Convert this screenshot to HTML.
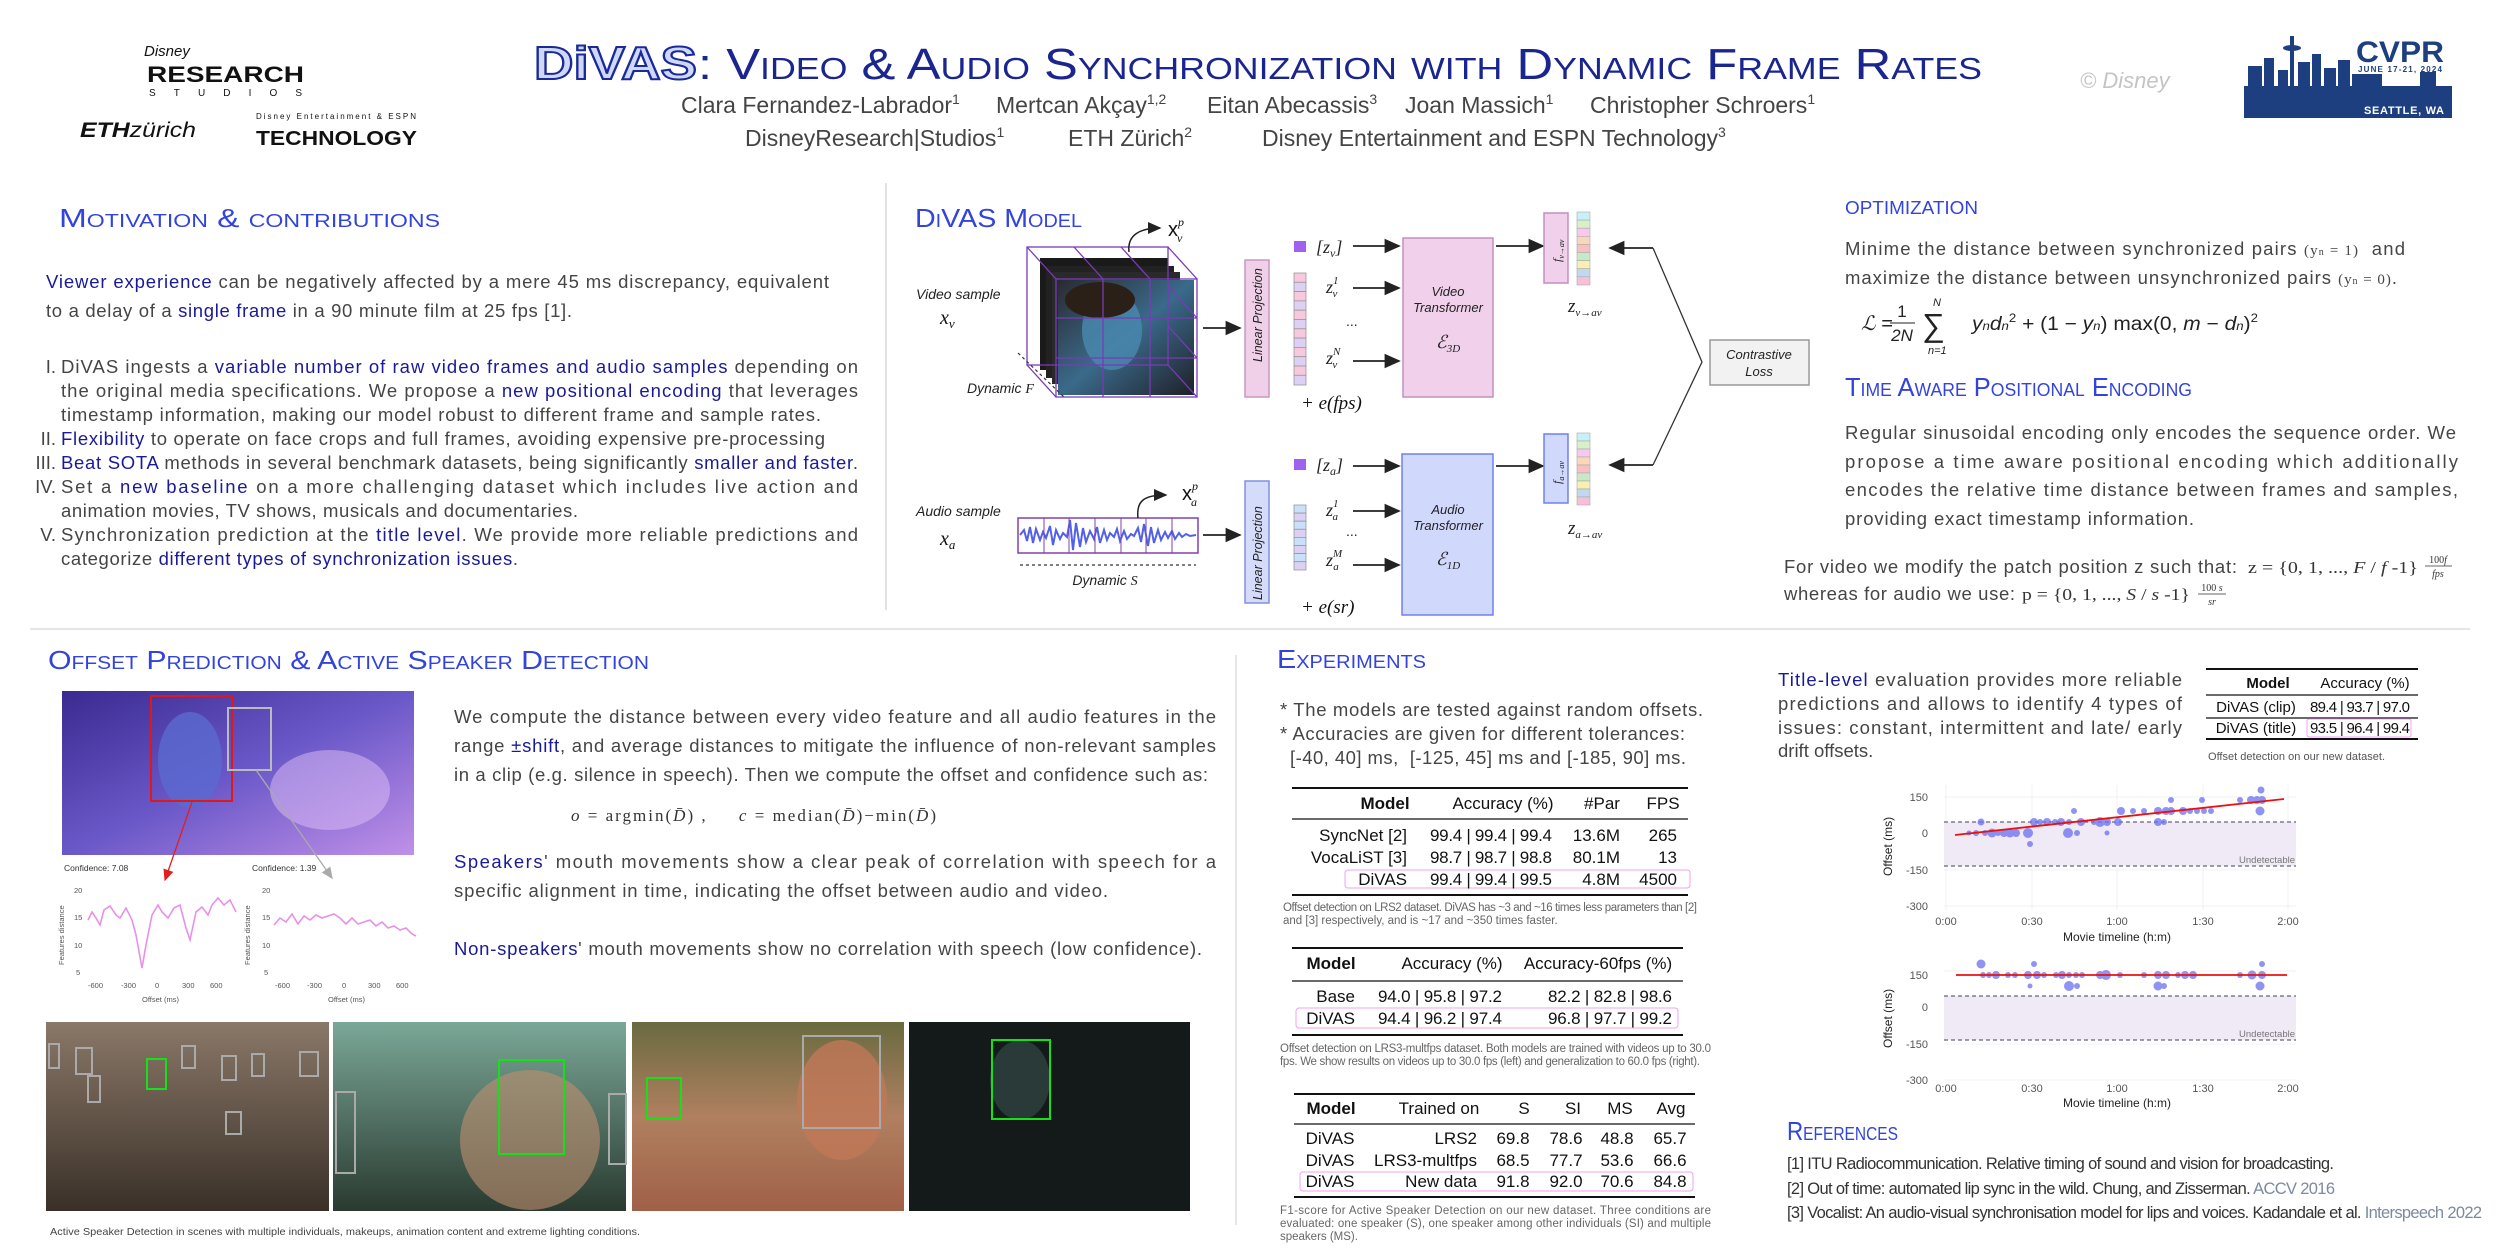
<!DOCTYPE html>
<html><head><meta charset="utf-8"><style>
html,body{margin:0;padding:0;background:#fff;width:2500px;height:1250px;overflow:hidden}
svg{position:absolute;left:0;top:0}
text{font-family:"Liberation Sans",sans-serif;white-space:pre}
.b{font-size:18.5px;fill:#454545}
.h{fill:#1a1a99}
.hd{font-size:26px;fill:#3344dd;font-variant:small-caps}
.s{font-family:"Liberation Serif",serif}
.m{font-family:"Liberation Serif",serif;font-style:italic}
.tb{font-family:"Liberation Serif",serif;font-size:17px;fill:#111}
.cap{font-size:11.5px;fill:#666}
.ax{font-size:11px;fill:#555}
</style></head><body>
<svg width="2500" height="1250" viewBox="0 0 2500 1250" xmlns="http://www.w3.org/2000/svg">
<defs>
<linearGradient id="av" x1="0" y1="0" x2="1" y2="1"><stop offset="0" stop-color="#3a2a90"/><stop offset="0.5" stop-color="#6a58c8"/><stop offset="1" stop-color="#c090e8"/></linearGradient>
<linearGradient id="cube" x1="0" y1="0" x2="1" y2="1"><stop offset="0" stop-color="#2a2a30"/><stop offset="0.5" stop-color="#3a6a8a"/><stop offset="1" stop-color="#202028"/></linearGradient>
<linearGradient id="im1" x1="0" y1="0" x2="0" y2="1"><stop offset="0" stop-color="#8a7868"/><stop offset="1" stop-color="#3a3028"/></linearGradient>
<linearGradient id="im2" x1="0" y1="0" x2="0" y2="1"><stop offset="0" stop-color="#7aa898"/><stop offset="1" stop-color="#2a3a30"/></linearGradient>
<linearGradient id="im3" x1="0" y1="0" x2="0" y2="1"><stop offset="0" stop-color="#6a6a40"/><stop offset="0.5" stop-color="#b08060"/><stop offset="1" stop-color="#a06048"/></linearGradient>
<marker id="ar" markerWidth="10" markerHeight="10" refX="8" refY="5" orient="auto"><path d="M0,1 L9,5 L0,9 z" fill="#222"/></marker>
<marker id="arr" markerWidth="10" markerHeight="10" refX="8" refY="5" orient="auto"><path d="M0,1 L9,5 L0,9 z" fill="#e02020"/></marker>
<marker id="arg" markerWidth="10" markerHeight="10" refX="8" refY="5" orient="auto"><path d="M0,1 L9,5 L0,9 z" fill="#aaa"/></marker>
</defs>

<!-- LOGOS -->
<text x="144" y="56" font-size="15" font-style="italic" fill="#111" font-family="Liberation Serif">Disney</text>
<text x="147" y="82" font-size="22" font-weight="bold" fill="#111" textLength="157" lengthAdjust="spacingAndGlyphs">RESEARCH</text>
<text x="149" y="96" font-size="10" fill="#111" textLength="153" lengthAdjust="spacing">STUDIOS</text>
<text x="80" y="137" font-size="21" fill="#111" textLength="116" lengthAdjust="spacingAndGlyphs"><tspan font-weight="bold" font-style="italic">ETH</tspan><tspan font-style="italic">zürich</tspan></text>
<text x="256" y="119" font-size="8" fill="#111" textLength="160">Disney Entertainment &amp; ESPN</text>
<text x="256" y="145" font-size="20" font-weight="bold" fill="#111" textLength="161" lengthAdjust="spacingAndGlyphs">TECHNOLOGY</text>
<text x="2080" y="88" font-size="22" font-style="italic" fill="#c4c4c4">© Disney</text>
<!-- CVPR -->
<g fill="#1e3f7f">
<rect x="2244" y="86" width="208" height="32"/>
<rect x="2248" y="66" width="14" height="22"/><rect x="2264" y="58" width="10" height="30"/>
<rect x="2278" y="70" width="10" height="18"/><rect x="2290" y="36" width="4" height="52"/>
<ellipse cx="2292" cy="48" rx="9" ry="3"/><rect x="2298" y="62" width="12" height="26"/>
<rect x="2312" y="54" width="9" height="34"/><rect x="2324" y="68" width="12" height="20"/>
<rect x="2338" y="60" width="12" height="28"/><rect x="2352" y="74" width="30" height="14"/>
<rect x="2420" y="72" width="16" height="16"/>
</g>
<text x="2356" y="62" font-size="30" font-weight="bold" fill="#1e3f7f" textLength="88" lengthAdjust="spacingAndGlyphs">CVPR</text>
<text x="2358" y="72" font-size="8" font-weight="bold" fill="#1e3f7f" textLength="84">JUNE 17-21, 2024</text>
<text x="2364" y="114" font-size="11" font-weight="bold" fill="#fff" textLength="80">SEATTLE, WA</text>

<!-- TITLE -->
<text x="534" y="79" font-size="46" font-weight="bold" fill="#d0d8f8" stroke="#1a2a9a" stroke-width="2" textLength="163" lengthAdjust="spacingAndGlyphs">DiVAS</text>
<text x="698" y="79" font-size="44" fill="#1a2590" style="font-variant:small-caps" textLength="1284" lengthAdjust="spacingAndGlyphs">: Video &amp; Audio Synchronization with Dynamic Frame Rates</text>
<g font-size="23" fill="#444">
<text x="681" y="113">Clara Fernandez-Labrador<tspan font-size="14" dy="-9">1</tspan></text>
<text x="996" y="113">Mertcan Akçay<tspan font-size="14" dy="-9">1,2</tspan></text>
<text x="1207" y="113">Eitan Abecassis<tspan font-size="14" dy="-9">3</tspan></text>
<text x="1405" y="113">Joan Massich<tspan font-size="14" dy="-9">1</tspan></text>
<text x="1590" y="113">Christopher Schroers<tspan font-size="14" dy="-9">1</tspan></text>
<text x="745" y="146">DisneyResearch|Studios<tspan font-size="14" dy="-9">1</tspan></text>
<text x="1068" y="146">ETH Zürich<tspan font-size="14" dy="-9">2</tspan></text>
<text x="1262" y="146">Disney Entertainment and ESPN Technology<tspan font-size="14" dy="-9">3</tspan></text>
</g>

<!-- DIVIDERS -->
<line x1="886" y1="183" x2="886" y2="610" stroke="#e2e2e2" stroke-width="2"/>
<line x1="30" y1="629" x2="2470" y2="629" stroke="#e6e6e6" stroke-width="2"/>
<line x1="1236" y1="655" x2="1236" y2="1225" stroke="#e6e6e6" stroke-width="2"/>

<!-- MOTIVATION -->
<text class="hd" x="59" y="227" textLength="381" lengthAdjust="spacingAndGlyphs">Motivation &amp; contributions</text>
<text class="b" x="46" y="288" textLength="783" lengthAdjust="spacing"><tspan class="h">Viewer experience</tspan> can be negatively affected by a mere 45 ms discrepancy, equivalent</text>
<text class="b" x="46" y="317" textLength="526" lengthAdjust="spacing">to a delay of a <tspan class="h">single frame</tspan> in a 90 minute film at 25 fps [1].</text>
<g class="b" text-anchor="end"><text x="56" y="373">I.</text><text x="56" y="445">II.</text><text x="56" y="469">III.</text><text x="56" y="493">IV.</text><text x="56" y="541">V.</text></g>
<text class="b" x="61" y="373" textLength="797" lengthAdjust="spacing">DiVAS ingests a <tspan class="h">variable number of raw video frames and audio samples</tspan> depending on</text>
<text class="b" x="61" y="397" textLength="797" lengthAdjust="spacing">the original media specifications. We propose a <tspan class="h">new positional encoding</tspan> that leverages</text>
<text class="b" x="61" y="421" textLength="760" lengthAdjust="spacing">timestamp information, making our model robust to different frame and sample rates.</text>
<text class="b" x="61" y="445" textLength="764" lengthAdjust="spacing"><tspan class="h">Flexibility</tspan> to operate on face crops and full frames, avoiding expensive pre-processing</text>
<text class="b" x="61" y="469" textLength="797" lengthAdjust="spacing"><tspan class="h">Beat SOTA</tspan> methods in several benchmark datasets, being significantly <tspan class="h">smaller and faster</tspan>.</text>
<text class="b" x="61" y="493" textLength="797" lengthAdjust="spacing">Set a <tspan class="h">new baseline</tspan> on a more challenging dataset which includes live action and</text>
<text class="b" x="61" y="517" textLength="517" lengthAdjust="spacing">animation movies, TV shows, musicals and documentaries.</text>
<text class="b" x="61" y="541" textLength="797" lengthAdjust="spacing">Synchronization prediction at the <tspan class="h">title level</tspan>. We provide more reliable predictions and</text>
<text class="b" x="61" y="565" textLength="457" lengthAdjust="spacing">categorize <tspan class="h">different types of synchronization issues</tspan>.</text>

<!-- MODEL -->
<text class="hd" x="915" y="227" textLength="167" lengthAdjust="spacingAndGlyphs">DiVAS Model</text>
<text x="916" y="299" font-size="14" font-style="italic" fill="#222">Video sample</text>
<text x="940" y="324" font-size="20" class="m" fill="#111">x<tspan font-size="13" dy="4">v</tspan></text>
<g>
<rect x="1040" y="258" width="128" height="112" fill="#1a1a1a"/>
<rect x="1046" y="266" width="128" height="112" fill="#222"/>
<rect x="1052" y="272" width="128" height="112" fill="#2a2a2a"/>
<rect x="1058" y="280" width="136" height="115" fill="url(#cube)"/>
<ellipse cx="1112" cy="330" rx="30" ry="40" fill="#4a8ab0" opacity="0.8"/>
<ellipse cx="1100" cy="300" rx="35" ry="18" fill="#2a2018"/>
<g fill="none" stroke="#7a3ab8" stroke-width="1.3">
<rect x="1027" y="247" width="141" height="118"/>
<rect x="1056" y="279" width="141" height="118"/>
<line x1="1027" y1="247" x2="1056" y2="279"/><line x1="1168" y1="247" x2="1197" y2="279"/>
<line x1="1027" y1="365" x2="1056" y2="397"/><line x1="1168" y1="365" x2="1197" y2="397"/>
<line x1="1103" y1="279" x2="1103" y2="397"/><line x1="1150" y1="279" x2="1150" y2="397"/>
<line x1="1056" y1="318" x2="1197" y2="318"/><line x1="1056" y1="358" x2="1197" y2="358"/>
<line x1="1074" y1="247" x2="1103" y2="279"/><line x1="1121" y1="247" x2="1150" y2="279"/>
<line x1="1168" y1="286" x2="1197" y2="318"/><line x1="1168" y1="326" x2="1197" y2="358"/>
</g></g>
<path d="M1129,252 C1127,235 1140,228 1160,228" fill="none" stroke="#222" stroke-width="1.5" marker-end="url(#ar)"/>
<text x="1168" y="236" font-size="20" fill="#111">x<tspan font-size="12" dy="-10" class="m">p</tspan><tspan font-size="12" dx="-7" dy="16" class="m">v</tspan></text>
<line x1="1018" y1="353" x2="1065" y2="398" stroke="#333" stroke-width="1.2" stroke-dasharray="3,3"/>
<text x="967" y="393" font-size="14" font-style="italic" fill="#222">Dynamic <tspan class="m">F</tspan></text>
<line x1="1203" y1="328" x2="1240" y2="328" stroke="#222" stroke-width="1.8" marker-end="url(#ar)"/>
<rect x="1245" y="260" width="24" height="137" fill="#f0d0e8" stroke="#c898c0" stroke-width="1.5"/>
<text transform="translate(1262,362) rotate(-90)" font-size="12.5" font-style="italic" fill="#222">Linear Projection</text>
<rect x="1294" y="241" width="12" height="11" fill="#a060f0"/>
<text x="1316" y="253" font-size="18" class="m" fill="#222">[z<tspan font-size="12" dy="4">v</tspan><tspan dy="-4">]</tspan></text>
<g stroke="#999" stroke-width="0.8">
<rect x="1294" y="273" width="12" height="9.3" fill="#f8c8dc"/><rect x="1294" y="282.3" width="12" height="9.3" fill="#dcd0f4"/>
<rect x="1294" y="291.6" width="12" height="9.3" fill="#f8c8dc"/><rect x="1294" y="300.9" width="12" height="9.3" fill="#dcd0f4"/>
<rect x="1294" y="310.2" width="12" height="9.3" fill="#f8c8dc"/><rect x="1294" y="319.5" width="12" height="9.3" fill="#dcd0f4"/>
<rect x="1294" y="328.8" width="12" height="9.3" fill="#f8c8dc"/><rect x="1294" y="338.1" width="12" height="9.3" fill="#dcd0f4"/>
<rect x="1294" y="347.4" width="12" height="9.3" fill="#f8c8dc"/><rect x="1294" y="356.7" width="12" height="9.3" fill="#dcd0f4"/>
<rect x="1294" y="366" width="12" height="9.3" fill="#f8c8dc"/><rect x="1294" y="375.3" width="12" height="9.7" fill="#dcd0f4"/>
</g>
<text x="1326" y="293" font-size="18" class="m" fill="#222">z<tspan font-size="11" dy="-9">1</tspan><tspan font-size="11" dx="-6" dy="13">v</tspan></text>
<text x="1346" y="326" font-size="14" fill="#222">...</text>
<text x="1326" y="364" font-size="18" class="m" fill="#222">z<tspan font-size="11" dy="-9">N</tspan><tspan font-size="11" dx="-8" dy="13">v</tspan></text>
<g stroke="#222" stroke-width="1.8" marker-end="url(#ar)"><line x1="1353" y1="246" x2="1399" y2="246"/><line x1="1353" y1="288" x2="1399" y2="288"/><line x1="1353" y1="361" x2="1399" y2="361"/></g>
<text x="1301" y="409" font-size="19" class="m" fill="#111">+ e(fps)</text>
<rect x="1403" y="238" width="90" height="159" fill="#f0d0ea" stroke="#c090c0" stroke-width="1.5"/>
<text x="1448" y="296" font-size="13" font-style="italic" fill="#222" text-anchor="middle">Video</text>
<text x="1448" y="312" font-size="13" font-style="italic" fill="#222" text-anchor="middle">Transformer</text>
<text x="1448" y="348" font-size="18" class="m" fill="#222" text-anchor="middle">ℰ<tspan font-size="11" dy="4">3D</tspan></text>
<line x1="1496" y1="246" x2="1543" y2="246" stroke="#222" stroke-width="1.8" marker-end="url(#ar)"/>
<rect x="1544" y="213" width="24" height="70" fill="#f0d0ea" stroke="#c090c0" stroke-width="1.5"/>
<text transform="translate(1561,262) rotate(-90)" font-size="12" class="m" fill="#222">f<tspan font-size="8" dy="3">v→av</tspan></text>
<g stroke="#aaa" stroke-width="0.6">
<rect x="1577" y="212" width="13" height="8.1" fill="#c8f0f8"/><rect x="1577" y="220.1" width="13" height="8.1" fill="#d8f0c8"/><rect x="1577" y="228.2" width="13" height="8.1" fill="#f8c8f0"/><rect x="1577" y="236.3" width="13" height="8.1" fill="#f8d8b8"/><rect x="1577" y="244.4" width="13" height="8.1" fill="#f8c0c0"/><rect x="1577" y="252.5" width="13" height="8.1" fill="#c8e8c8"/><rect x="1577" y="260.6" width="13" height="8.1" fill="#f8f0b0"/><rect x="1577" y="268.7" width="13" height="8.1" fill="#c0d8f0"/><rect x="1577" y="276.8" width="13" height="8.2" fill="#f8c0d8"/>
<rect x="1577" y="433" width="13" height="8" fill="#c8f0f8"/><rect x="1577" y="441" width="13" height="8" fill="#d8f0c8"/><rect x="1577" y="449" width="13" height="8" fill="#f8c8f0"/><rect x="1577" y="457" width="13" height="8" fill="#f8d8b8"/><rect x="1577" y="465" width="13" height="8" fill="#f8c0c0"/><rect x="1577" y="473" width="13" height="8" fill="#c8e8c8"/><rect x="1577" y="481" width="13" height="8" fill="#f8f0b0"/><rect x="1577" y="489" width="13" height="8" fill="#c0d8f0"/><rect x="1577" y="497" width="13" height="8" fill="#f8c0d8"/>
</g>
<text x="1568" y="312" font-size="19" class="m" fill="#222">z<tspan font-size="11" dy="4">v→av</tspan></text>
<polyline points="1653,248 1702,362 1653,465" fill="none" stroke="#333" stroke-width="1.3"/>
<line x1="1653" y1="248" x2="1610" y2="248" stroke="#222" stroke-width="1.8" marker-end="url(#ar)"/>
<line x1="1653" y1="465" x2="1610" y2="465" stroke="#222" stroke-width="1.8" marker-end="url(#ar)"/>
<rect x="1710" y="340" width="99" height="45" fill="#f2f2f2" stroke="#999" stroke-width="1.5"/>
<text x="1759" y="359" font-size="13" font-style="italic" fill="#222" text-anchor="middle">Contrastive</text>
<text x="1759" y="376" font-size="13" font-style="italic" fill="#222" text-anchor="middle">Loss</text>
<text x="916" y="516" font-size="14" font-style="italic" fill="#222">Audio sample</text>
<text x="940" y="545" font-size="20" class="m" fill="#111">x<tspan font-size="13" dy="4">a</tspan></text>
<rect x="1018" y="518" width="180" height="35" fill="#fff" stroke="#8040b0" stroke-width="1.5"/>
<path d="M1020,535 L1024,530 L1027,541 L1030,527 L1033,543 L1036,529 L1040,540 L1043,532 L1046,538 L1050,526 L1053,545 L1056,530 L1060,539 L1063,533 L1067,537 L1070,520 L1073,550 L1076,523 L1080,547 L1083,528 L1086,542 L1090,531 L1094,539 L1097,527 L1100,543 L1104,530 L1107,540 L1110,533 L1114,537 L1117,529 L1120,541 L1124,531 L1127,539 L1131,534 L1134,536 L1138,528 L1141,542 L1144,524 L1148,546 L1151,527 L1154,543 L1158,530 L1161,540 L1165,532 L1168,538 L1172,531 L1175,539 L1179,533 L1182,537 L1186,534 L1190,536 L1196,535" fill="none" stroke="#5060e8" stroke-width="2"/>
<g stroke="#8040b0" stroke-width="1"><line x1="1044" y1="518" x2="1044" y2="553"/><line x1="1069" y1="518" x2="1069" y2="553"/><line x1="1095" y1="518" x2="1095" y2="553"/><line x1="1121" y1="518" x2="1121" y2="553"/><line x1="1146" y1="518" x2="1146" y2="553"/><line x1="1172" y1="518" x2="1172" y2="553"/></g>
<path d="M1138,518 C1136,500 1145,495 1166,495" fill="none" stroke="#222" stroke-width="1.5" marker-end="url(#ar)"/>
<text x="1182" y="500" font-size="20" fill="#111">x<tspan font-size="12" dy="-10" class="m">p</tspan><tspan font-size="12" dx="-7" dy="16" class="m">a</tspan></text>
<line x1="1020" y1="565" x2="1196" y2="565" stroke="#333" stroke-width="1.2" stroke-dasharray="3,3"/>
<text x="1105" y="585" font-size="14" font-style="italic" fill="#222" text-anchor="middle">Dynamic <tspan class="m">S</tspan></text>
<line x1="1203" y1="535" x2="1240" y2="535" stroke="#222" stroke-width="1.8" marker-end="url(#ar)"/>
<rect x="1245" y="481" width="24" height="122" fill="#d4dcfa" stroke="#8090e0" stroke-width="1.5"/>
<text transform="translate(1262,600) rotate(-90)" font-size="12.5" font-style="italic" fill="#222">Linear Projection</text>
<rect x="1294" y="459" width="12" height="11" fill="#a060f0"/>
<text x="1316" y="471" font-size="18" class="m" fill="#222">[z<tspan font-size="12" dy="4">a</tspan><tspan dy="-4">]</tspan></text>
<g stroke="#999" stroke-width="0.8">
<rect x="1294" y="505" width="12" height="8.1" fill="#c8e0f8"/><rect x="1294" y="513.1" width="12" height="8.1" fill="#dcd0f4"/><rect x="1294" y="521.2" width="12" height="8.1" fill="#c8e0f8"/><rect x="1294" y="529.3" width="12" height="8.1" fill="#dcd0f4"/><rect x="1294" y="537.4" width="12" height="8.1" fill="#c8e0f8"/><rect x="1294" y="545.5" width="12" height="8.1" fill="#dcd0f4"/><rect x="1294" y="553.6" width="12" height="8.1" fill="#c8e0f8"/><rect x="1294" y="561.7" width="12" height="8.3" fill="#dcd0f4"/>
</g>
<text x="1326" y="516" font-size="18" class="m" fill="#222">z<tspan font-size="11" dy="-9">1</tspan><tspan font-size="11" dx="-6" dy="13">a</tspan></text>
<text x="1346" y="536" font-size="14" fill="#222">...</text>
<text x="1326" y="566" font-size="18" class="m" fill="#222">z<tspan font-size="11" dy="-9">M</tspan><tspan font-size="11" dx="-9" dy="13">a</tspan></text>
<g stroke="#222" stroke-width="1.8" marker-end="url(#ar)"><line x1="1353" y1="466" x2="1399" y2="466"/><line x1="1353" y1="511" x2="1399" y2="511"/><line x1="1353" y1="565" x2="1399" y2="565"/></g>
<text x="1301" y="613" font-size="19" class="m" fill="#111">+ e(sr)</text>
<rect x="1402" y="454" width="91" height="161" fill="#d0d8fc" stroke="#7080f0" stroke-width="1.5"/>
<text x="1448" y="514" font-size="13" font-style="italic" fill="#222" text-anchor="middle">Audio</text>
<text x="1448" y="530" font-size="13" font-style="italic" fill="#222" text-anchor="middle">Transformer</text>
<text x="1448" y="565" font-size="18" class="m" fill="#222" text-anchor="middle">ℰ<tspan font-size="11" dy="4">1D</tspan></text>
<line x1="1496" y1="466" x2="1543" y2="466" stroke="#222" stroke-width="1.8" marker-end="url(#ar)"/>
<rect x="1544" y="434" width="24" height="69" fill="#d0d8fc" stroke="#7080f0" stroke-width="1.5"/>
<text transform="translate(1561,484) rotate(-90)" font-size="12" class="m" fill="#222">f<tspan font-size="8" dy="3">a→av</tspan></text>
<text x="1568" y="534" font-size="19" class="m" fill="#222">z<tspan font-size="11" dy="4">a→av</tspan></text>

<!-- OPTIMIZATION -->
<text class="hd" x="1845" y="214" font-size="22" textLength="133" lengthAdjust="spacingAndGlyphs">optimization</text>
<text class="b" x="1845" y="255" font-size="19" textLength="560" lengthAdjust="spacing">Minime the distance between synchronized pairs <tspan class="s" font-size="15">(y</tspan><tspan class="s" font-size="10">n</tspan><tspan class="s" font-size="15"> = 1)</tspan>  and</text>
<text class="b" x="1845" y="284" font-size="19" textLength="552" lengthAdjust="spacing">maximize the distance between unsynchronized pairs <tspan class="s" font-size="15">(y</tspan><tspan class="s" font-size="10">n</tspan><tspan class="s" font-size="15"> = 0)</tspan>.</text>
<g class="s" fill="#222">
<text x="1861" y="330" font-size="20" font-style="italic">ℒ =</text>
<text x="1902" y="317" font-size="17" text-anchor="middle">1</text>
<line x1="1890" y1="323" x2="1915" y2="323" stroke="#222" stroke-width="1"/>
<text x="1902" y="341" font-size="17" text-anchor="middle" font-style="italic">2N</text>
<text x="1933" y="306" font-size="11" font-style="italic">N</text>
<text x="1922" y="336" font-size="32">∑</text>
<text x="1928" y="354" font-size="11" font-style="italic">n=1</text>
<text x="1972" y="330" font-size="19" textLength="286" lengthAdjust="spacingAndGlyphs"><tspan font-style="italic">y</tspan><tspan font-size="12" font-style="italic">n</tspan><tspan font-style="italic">d</tspan><tspan font-size="12" font-style="italic">n</tspan><tspan font-size="12" dy="-8">2</tspan><tspan dy="8"> + (1 − </tspan><tspan font-style="italic">y</tspan><tspan font-size="12" font-style="italic">n</tspan><tspan>) max(0, </tspan><tspan font-style="italic">m</tspan><tspan> − </tspan><tspan font-style="italic">d</tspan><tspan font-size="12" font-style="italic">n</tspan><tspan>)</tspan><tspan font-size="12" dy="-8">2</tspan></text>
</g>
<text class="hd" x="1845" y="396" font-size="24" textLength="347" lengthAdjust="spacingAndGlyphs">Time Aware Positional Encoding</text>
<text class="b" x="1845" y="439" font-size="19" textLength="611" lengthAdjust="spacing">Regular sinusoidal encoding only encodes the sequence order. We</text>
<text class="b" x="1845" y="468" font-size="19" textLength="613" lengthAdjust="spacing">propose a time aware positional encoding which additionally</text>
<text class="b" x="1845" y="496" font-size="19" textLength="613" lengthAdjust="spacing">encodes the relative time distance between frames and samples,</text>
<text class="b" x="1845" y="525" font-size="19" textLength="349" lengthAdjust="spacing">providing exact timestamp information.</text>
<text class="b" x="1784" y="573" font-size="19" textLength="453" lengthAdjust="spacing">For video we modify the patch position z such that:</text>
<text x="2248" y="573" class="s" font-size="17" fill="#333" textLength="170" lengthAdjust="spacingAndGlyphs">z = {0, 1, ..., <tspan font-style="italic">F</tspan> / <tspan font-style="italic">f</tspan> -1}</text>
<text x="2438" y="563" class="s" font-size="10" fill="#333" text-anchor="middle">100<tspan font-style="italic">f</tspan></text>
<line x1="2425" y1="566" x2="2452" y2="566" stroke="#333" stroke-width="0.8"/>
<text x="2438" y="577" class="s" font-size="10" font-style="italic" fill="#333" text-anchor="middle">fps</text>
<text class="b" x="1784" y="600" font-size="19" textLength="231" lengthAdjust="spacing">whereas for audio we use:</text>
<text x="2022" y="600" class="s" font-size="17" fill="#333" textLength="168" lengthAdjust="spacingAndGlyphs">p = {0, 1, ..., <tspan font-style="italic">S</tspan> / <tspan font-style="italic">s</tspan> -1}</text>
<text x="2212" y="591" class="s" font-size="10" fill="#333" text-anchor="middle">100 <tspan font-style="italic">s</tspan></text>
<line x1="2198" y1="594" x2="2226" y2="594" stroke="#333" stroke-width="0.8"/>
<text x="2212" y="605" class="s" font-size="10" font-style="italic" fill="#333" text-anchor="middle">sr</text>

<!-- OFFSET PREDICTION -->
<text class="hd" x="48" y="669" textLength="601" lengthAdjust="spacingAndGlyphs">Offset Prediction &amp; Active Speaker Detection</text>
<rect x="62" y="691" width="352" height="164" fill="url(#av)"/>
<ellipse cx="190" cy="760" rx="32" ry="48" fill="#5a6ad0" opacity="0.8"/>
<ellipse cx="330" cy="790" rx="60" ry="40" fill="#e0c0f8" opacity="0.5"/>
<rect x="151" y="696" width="81" height="105" fill="none" stroke="#e01818" stroke-width="2"/>
<rect x="228" y="708" width="43" height="62" fill="none" stroke="#bbb" stroke-width="2"/>
<line x1="192" y1="802" x2="165" y2="880" stroke="#e02020" stroke-width="1.3" marker-end="url(#arr)"/>
<line x1="256" y1="770" x2="332" y2="878" stroke="#aaa" stroke-width="1.3" marker-end="url(#arg)"/>
<text x="64" y="871" font-size="8.5" fill="#333">Confidence: 7.08</text>
<text x="252" y="871" font-size="8.5" fill="#333">Confidence: 1.39</text>
<g font-size="7.5" fill="#555">
<text x="74" y="893">20</text><text x="74" y="920">15</text><text x="74" y="948">10</text><text x="76" y="975">5</text>
<text x="262" y="893">20</text><text x="262" y="920">15</text><text x="262" y="948">10</text><text x="264" y="975">5</text>
<text x="88" y="988">-600</text><text x="121" y="988">-300</text><text x="155" y="988">0</text><text x="182" y="988">300</text><text x="210" y="988">600</text>
<text x="275" y="988">-600</text><text x="307" y="988">-300</text><text x="342" y="988">0</text><text x="368" y="988">300</text><text x="396" y="988">600</text>
<text x="142" y="1002">Offset (ms)</text><text x="328" y="1002">Offset (ms)</text>
<text transform="translate(64,965) rotate(-90)">Features distance</text>
<text transform="translate(250,965) rotate(-90)">Features distance</text>
</g>
<polyline points="88,920 92,912 96,918 100,925 104,910 110,906 116,915 120,918 126,908 132,920 136,935 142,968 146,945 152,915 158,905 162,912 168,918 174,908 180,905 186,928 190,940 196,912 202,907 208,915 212,905 218,898 224,905 230,900 236,912" fill="none" stroke="#e890e8" stroke-width="1.6"/>
<polyline points="274,925 280,918 286,922 292,914 298,924 304,916 310,920 316,915 322,918 328,916 334,914 340,918 346,924 352,918 358,924 364,922 370,920 376,926 382,922 388,928 394,926 400,930 406,928 412,934 416,936" fill="none" stroke="#e890e8" stroke-width="1.6"/>
<text class="b" x="454" y="723" textLength="762" lengthAdjust="spacing">We compute the distance between every video feature and all audio features in the</text>
<text class="b" x="454" y="752" textLength="762" lengthAdjust="spacing">range <tspan class="h">±shift</tspan>, and average distances to mitigate the influence of non-relevant samples</text>
<text class="b" x="454" y="781" textLength="754" lengthAdjust="spacing">in a clip (e.g. silence in speech). Then we compute the offset and confidence such as:</text>
<text x="571" y="821" class="s" font-size="17" fill="#333" textLength="365" lengthAdjust="spacing"><tspan font-style="italic">o</tspan> = argmin(<tspan font-style="italic">D̄</tspan>) ,     <tspan font-style="italic">c</tspan> = median(<tspan font-style="italic">D̄</tspan>)−min(<tspan font-style="italic">D̄</tspan>)</text>
<text class="b" x="454" y="868" textLength="762" lengthAdjust="spacing"><tspan class="h">Speakers</tspan>' mouth movements show a clear peak of correlation with speech for a</text>
<text class="b" x="454" y="897" textLength="654" lengthAdjust="spacing">specific alignment in time, indicating the offset between audio and video.</text>
<text class="b" x="454" y="955" textLength="748" lengthAdjust="spacing"><tspan class="h">Non-speakers</tspan>' mouth movements show no correlation with speech (low confidence).</text>
<rect x="46" y="1022" width="283" height="189" fill="url(#im1)"/>
<rect x="333" y="1022" width="293" height="189" fill="url(#im2)"/>
<ellipse cx="530" cy="1140" rx="70" ry="70" fill="#c09070" opacity="0.6"/>
<rect x="632" y="1022" width="272" height="189" fill="url(#im3)"/>
<ellipse cx="842" cy="1100" rx="45" ry="60" fill="#c07858" opacity="0.8"/>
<rect x="909" y="1022" width="281" height="189" fill="#141a1a"/>
<ellipse cx="1020" cy="1080" rx="30" ry="40" fill="#2a3a38"/>
<g fill="none" stroke-width="2">
<rect x="147" y="1059" width="19" height="30" stroke="#18e018"/>
<rect x="499" y="1060" width="65" height="94" stroke="#18e018"/>
<rect x="647" y="1078" width="34" height="41" stroke="#18e018"/>
<rect x="992" y="1040" width="58" height="79" stroke="#18e018"/>
<g stroke="#aaa"><rect x="336" y="1092" width="19" height="81"/><rect x="609" y="1094" width="17" height="70"/><rect x="803" y="1036" width="77" height="92"/>
<rect x="49" y="1044" width="10" height="24"/><rect x="76" y="1048" width="16" height="26"/><rect x="88" y="1076" width="12" height="26"/><rect x="182" y="1046" width="13" height="22"/><rect x="222" y="1056" width="14" height="24"/><rect x="252" y="1054" width="12" height="22"/><rect x="300" y="1052" width="18" height="24"/><rect x="226" y="1112" width="15" height="22"/></g></g>
<text x="50" y="1235" font-size="10.5" fill="#444" textLength="590" lengthAdjust="spacingAndGlyphs">Active Speaker Detection in scenes with multiple individuals, makeups, animation content and extreme lighting conditions.</text>

<!-- EXPERIMENTS -->
<text class="hd" x="1277" y="668" textLength="149" lengthAdjust="spacingAndGlyphs">Experiments</text>
<text class="b" x="1280" y="716" textLength="423" lengthAdjust="spacing">* The models are tested against random offsets.</text>
<text class="b" x="1280" y="740" textLength="405" lengthAdjust="spacing">* Accuracies are given for different tolerances:</text>
<text class="b" x="1290" y="764" textLength="396" lengthAdjust="spacing">[-40, 40] ms,  [-125, 45] ms and [-185, 90] ms.</text>
<line x1="1292" y1="788" x2="1688" y2="788" stroke="#111" stroke-width="2"/>
<line x1="1292" y1="819" x2="1688" y2="819" stroke="#111" stroke-width="1.2"/>
<line x1="1292" y1="895" x2="1688" y2="895" stroke="#111" stroke-width="2"/>
<rect x="1345" y="870" width="345" height="18" rx="3" fill="none" stroke="#f0a0f0" stroke-width="1"/>
<g class="tb">
<text x="1385" y="809" text-anchor="middle" font-weight="bold">Model</text><text x="1503" y="809" text-anchor="middle">Accuracy (%)</text><text x="1602" y="809" text-anchor="middle">#Par</text><text x="1663" y="809" text-anchor="middle">FPS</text>
<text x="1407" y="841" text-anchor="end">SyncNet [2]</text><text x="1430" y="841" textLength="122">99.4 | 99.4 | 99.4</text><text x="1620" y="841" text-anchor="end">13.6M</text><text x="1677" y="841" text-anchor="end">265</text>
<text x="1407" y="863" text-anchor="end">VocaLiST [3]</text><text x="1430" y="863" textLength="122">98.7 | 98.7 | 98.8</text><text x="1620" y="863" text-anchor="end">80.1M</text><text x="1677" y="863" text-anchor="end">13</text>
<text x="1407" y="885" text-anchor="end">DiVAS</text><text x="1430" y="885" textLength="122">99.4 | 99.4 | 99.5</text><text x="1620" y="885" text-anchor="end">4.8M</text><text x="1677" y="885" text-anchor="end">4500</text>
</g>
<text class="cap" x="1283" y="911" textLength="414" lengthAdjust="spacing">Offset detection on LRS2 dataset. DiVAS has ~3 and ~16 times less parameters than [2]</text>
<text class="cap" x="1283" y="924">and [3] respectively, and is ~17 and ~350 times faster.</text>
<line x1="1292" y1="948" x2="1683" y2="948" stroke="#111" stroke-width="2"/>
<line x1="1292" y1="981" x2="1683" y2="981" stroke="#111" stroke-width="1.2"/>
<line x1="1292" y1="1035" x2="1683" y2="1035" stroke="#111" stroke-width="2"/>
<rect x="1296" y="1008" width="382" height="20" rx="3" fill="none" stroke="#f0a0f0" stroke-width="1"/>
<g class="tb">
<text x="1331" y="969" text-anchor="middle" font-weight="bold">Model</text><text x="1452" y="969" text-anchor="middle">Accuracy (%)</text><text x="1598" y="969" text-anchor="middle">Accuracy-60fps (%)</text>
<text x="1355" y="1002" text-anchor="end">Base</text><text x="1378" y="1002" textLength="124">94.0 | 95.8 | 97.2</text><text x="1548" y="1002" textLength="124">82.2 | 82.8 | 98.6</text>
<text x="1355" y="1024" text-anchor="end">DiVAS</text><text x="1378" y="1024" textLength="124">94.4 | 96.2 | 97.4</text><text x="1548" y="1024" textLength="124">96.8 | 97.7 | 99.2</text>
</g>
<text class="cap" x="1280" y="1052" textLength="431" lengthAdjust="spacing">Offset detection on LRS3-multfps dataset. Both models are trained with videos up to 30.0</text>
<text class="cap" x="1280" y="1065" textLength="420" lengthAdjust="spacing">fps. We show results on videos up to 30.0 fps (left) and generalization to 60.0 fps (right).</text>
<line x1="1294" y1="1094" x2="1695" y2="1094" stroke="#111" stroke-width="2"/>
<line x1="1294" y1="1124" x2="1695" y2="1124" stroke="#111" stroke-width="1.2"/>
<line x1="1294" y1="1197" x2="1695" y2="1197" stroke="#111" stroke-width="2"/>
<rect x="1300" y="1172" width="393" height="19" rx="3" fill="none" stroke="#f0a0f0" stroke-width="1"/>
<g class="tb">
<text x="1331" y="1114" text-anchor="middle" font-weight="bold">Model</text><text x="1439" y="1114" text-anchor="middle">Trained on</text><text x="1524" y="1114" text-anchor="middle">S</text><text x="1573" y="1114" text-anchor="middle">SI</text><text x="1620" y="1114" text-anchor="middle">MS</text><text x="1671" y="1114" text-anchor="middle">Avg</text>
<g text-anchor="middle">
<text x="1330" y="1144">DiVAS</text><text x="1513" y="1144">69.8</text><text x="1566" y="1144">78.6</text><text x="1617" y="1144">48.8</text><text x="1670" y="1144">65.7</text>
<text x="1330" y="1166">DiVAS</text><text x="1513" y="1166">68.5</text><text x="1566" y="1166">77.7</text><text x="1617" y="1166">53.6</text><text x="1670" y="1166">66.6</text>
<text x="1330" y="1187">DiVAS</text><text x="1513" y="1187">91.8</text><text x="1566" y="1187">92.0</text><text x="1617" y="1187">70.6</text><text x="1670" y="1187">84.8</text>
</g>
<text x="1477" y="1144" text-anchor="end">LRS2</text><text x="1477" y="1166" text-anchor="end">LRS3-multfps</text><text x="1477" y="1187" text-anchor="end">New data</text>
</g>
<text class="cap" x="1280" y="1214" textLength="431" lengthAdjust="spacing">F1-score for Active Speaker Detection on our new dataset. Three conditions are</text>
<text class="cap" x="1280" y="1227" textLength="431" lengthAdjust="spacing">evaluated: one speaker (S), one speaker among other individuals (SI) and multiple</text>
<text class="cap" x="1280" y="1240">speakers (MS).</text>

<!-- TITLE-LEVEL -->
<text class="b" x="1778" y="686" font-size="19" textLength="404" lengthAdjust="spacing"><tspan class="h">Title-level</tspan> evaluation provides more reliable</text>
<text class="b" x="1778" y="710" font-size="19" textLength="404" lengthAdjust="spacing">predictions and allows to identify 4 types of</text>
<text class="b" x="1778" y="734" font-size="19" textLength="404" lengthAdjust="spacing">issues: constant, intermittent and late/ early</text>
<text class="b" x="1778" y="757" font-size="19">drift offsets.</text>
<line x1="2206" y1="669" x2="2418" y2="669" stroke="#111" stroke-width="2"/>
<line x1="2206" y1="695" x2="2418" y2="695" stroke="#111" stroke-width="1.2"/>
<line x1="2206" y1="718" x2="2418" y2="718" stroke="#111" stroke-width="1.2"/>
<line x1="2206" y1="739" x2="2418" y2="739" stroke="#111" stroke-width="2"/>
<rect x="2307" y="719" width="104" height="18" rx="2" fill="none" stroke="#f0a0f0" stroke-width="1"/>
<g class="tb" style="font-size:15px">
<text x="2268" y="688" text-anchor="middle" font-weight="bold">Model</text><text x="2365" y="688" text-anchor="middle">Accuracy (%)</text>
<text x="2256" y="712" text-anchor="middle">DiVAS (clip)</text><text x="2310" y="712" textLength="100">89.4 | 93.7 | 97.0</text>
<text x="2256" y="733" text-anchor="middle">DiVAS (title)</text><text x="2310" y="733" textLength="100">93.5 | 96.4 | 99.4</text>
</g>
<text x="2208" y="760" font-size="11" fill="#555" textLength="177" lengthAdjust="spacing">Offset detection on our new dataset.</text>

<!-- CHART 1 -->
<g stroke="#f0f0f6" stroke-width="1"><line x1="1944" y1="797" x2="2296" y2="797"/><line x1="1944" y1="833" x2="2296" y2="833"/><line x1="1944" y1="870" x2="2296" y2="870"/><line x1="1944" y1="906" x2="2296" y2="906"/>
<line x1="1946" y1="785" x2="1946" y2="910"/><line x1="2032" y1="785" x2="2032" y2="910"/><line x1="2117" y1="785" x2="2117" y2="910"/><line x1="2203" y1="785" x2="2203" y2="910"/><line x1="2288" y1="785" x2="2288" y2="910"/></g>
<rect x="1944" y="822" width="352" height="44" fill="#efeaf6"/>
<line x1="1944" y1="822" x2="2296" y2="822" stroke="#667" stroke-width="1.2" stroke-dasharray="4,3"/>
<line x1="1944" y1="866" x2="2296" y2="866" stroke="#667" stroke-width="1.2" stroke-dasharray="4,3"/>
<text x="2295" y="863" font-size="9.5" fill="#777" text-anchor="end">Undetectable</text>
<g fill="#6a70f0" opacity="0.75">
<circle cx="1969" cy="833" r="2.5"/><circle cx="1976" cy="833" r="3"/><circle cx="1981" cy="822" r="3.5"/><circle cx="1985" cy="833" r="3"/><circle cx="1992" cy="833" r="4.5"/><circle cx="1998" cy="833" r="3"/><circle cx="2004" cy="833" r="4"/><circle cx="2010" cy="833" r="4.5"/><circle cx="2016" cy="833" r="4"/><circle cx="2028" cy="833" r="5"/><circle cx="2030" cy="844" r="3"/><circle cx="2034" cy="822" r="4"/><circle cx="2040" cy="822" r="3"/><circle cx="2047" cy="822" r="4"/><circle cx="2055" cy="822" r="3"/><circle cx="2061" cy="822" r="4"/><circle cx="2069" cy="822" r="3"/><circle cx="2074" cy="811" r="3"/><circle cx="2068" cy="833" r="5"/><circle cx="2077" cy="833" r="3"/><circle cx="2081" cy="822" r="4"/><circle cx="2094" cy="822" r="3"/><circle cx="2100" cy="822" r="5"/><circle cx="2107" cy="822" r="4"/><circle cx="2107" cy="833" r="2.5"/><circle cx="2118" cy="822" r="4"/><circle cx="2121" cy="811" r="4"/><circle cx="2133" cy="811" r="3"/><circle cx="2144" cy="811" r="3"/><circle cx="2158" cy="811" r="4"/><circle cx="2158" cy="822" r="4"/><circle cx="2166" cy="811" r="4"/><circle cx="2164" cy="822" r="3"/><circle cx="2171" cy="811" r="4"/><circle cx="2171" cy="800" r="3"/><circle cx="2183" cy="811" r="4"/><circle cx="2190" cy="811" r="3"/><circle cx="2197" cy="811" r="3"/><circle cx="2202" cy="800" r="3"/><circle cx="2204" cy="811" r="3"/><circle cx="2211" cy="811" r="3"/><circle cx="2240" cy="800" r="3"/><circle cx="2251" cy="800" r="4"/><circle cx="2257" cy="800" r="4"/><circle cx="2262" cy="800" r="4"/><circle cx="2261" cy="790" r="3.5"/><circle cx="2260" cy="811" r="4.5"/></g>
<line x1="1955" y1="835" x2="2284" y2="799" stroke="#ee1010" stroke-width="1.8"/>
<g class="ax" text-anchor="end"><text x="1928" y="801">150</text><text x="1928" y="837">0</text><text x="1928" y="874">-150</text><text x="1928" y="910">-300</text>
<text x="1928" y="979">150</text><text x="1928" y="1011">0</text><text x="1928" y="1048">-150</text><text x="1928" y="1084">-300</text></g>
<g class="ax" text-anchor="middle"><text x="1946" y="925">0:00</text><text x="2032" y="925">0:30</text><text x="2117" y="925">1:00</text><text x="2203" y="925">1:30</text><text x="2288" y="925">2:00</text>
<text x="1946" y="1092">0:00</text><text x="2032" y="1092">0:30</text><text x="2117" y="1092">1:00</text><text x="2203" y="1092">1:30</text><text x="2288" y="1092">2:00</text></g>
<text x="2117" y="941" font-size="12" fill="#222" text-anchor="middle">Movie timeline (h:m)</text>
<text x="2117" y="1107" font-size="12" fill="#222" text-anchor="middle">Movie timeline (h:m)</text>
<text transform="translate(1892,876) rotate(-90)" font-size="12" fill="#222">Offset (ms)</text>
<text transform="translate(1892,1048) rotate(-90)" font-size="12" fill="#222">Offset (ms)</text>
<!-- CHART 2 -->
<g stroke="#f0f0f6" stroke-width="1"><line x1="1944" y1="971" x2="2296" y2="971"/><line x1="1944" y1="1007" x2="2296" y2="1007"/><line x1="1944" y1="1044" x2="2296" y2="1044"/><line x1="1944" y1="1080" x2="2296" y2="1080"/></g>
<rect x="1944" y="996" width="352" height="44" fill="#efeaf6"/>
<line x1="1944" y1="996" x2="2296" y2="996" stroke="#667" stroke-width="1.2" stroke-dasharray="4,3"/>
<line x1="1944" y1="1040" x2="2296" y2="1040" stroke="#667" stroke-width="1.2" stroke-dasharray="4,3"/>
<text x="2295" y="1037" font-size="9.5" fill="#777" text-anchor="end">Undetectable</text>
<g fill="#6a70f0" opacity="0.75">
<circle cx="1981" cy="964" r="4.5"/><circle cx="1983" cy="975" r="3"/><circle cx="1989" cy="975" r="3"/><circle cx="1996" cy="975" r="4"/><circle cx="2008" cy="975" r="3"/><circle cx="2015" cy="975" r="3"/><circle cx="2028" cy="975" r="4"/><circle cx="2030" cy="986" r="2.5"/><circle cx="2034" cy="964" r="3"/><circle cx="2037" cy="975" r="4"/><circle cx="2044" cy="975" r="3"/><circle cx="2056" cy="975" r="3"/><circle cx="2062" cy="975" r="4"/><circle cx="2069" cy="975" r="3"/><circle cx="2069" cy="986" r="5"/><circle cx="2077" cy="986" r="3"/><circle cx="2076" cy="975" r="3"/><circle cx="2082" cy="975" r="3"/><circle cx="2100" cy="975" r="4"/><circle cx="2106" cy="975" r="5"/><circle cx="2120" cy="975" r="3"/><circle cx="2144" cy="975" r="3"/><circle cx="2158" cy="975" r="4"/><circle cx="2158" cy="986" r="4.5"/><circle cx="2164" cy="986" r="3"/><circle cx="2166" cy="975" r="4"/><circle cx="2178" cy="975" r="3"/><circle cx="2185" cy="975" r="4"/><circle cx="2193" cy="975" r="4"/><circle cx="2240" cy="975" r="3"/><circle cx="2252" cy="975" r="4.5"/><circle cx="2262" cy="975" r="4"/><circle cx="2262" cy="964" r="3"/><circle cx="2260" cy="986" r="4.5"/></g>
<line x1="1956" y1="975" x2="2287" y2="975" stroke="#ee1010" stroke-width="1.8"/>

<!-- REFERENCES -->
<text class="hd" x="1787" y="1140" font-size="24" textLength="111" lengthAdjust="spacingAndGlyphs">References</text>
<text x="1787" y="1169" font-size="16.5" fill="#333" textLength="547" lengthAdjust="spacing">[1] ITU Radiocommunication. Relative timing of sound and vision for broadcasting.</text>
<text x="1787" y="1194" font-size="16.5" fill="#333" textLength="548" lengthAdjust="spacing">[2] Out of time: automated lip sync in the wild. Chung, and Zisserman. <tspan fill="#7a8aa0">ACCV 2016</tspan></text>
<text x="1787" y="1218" font-size="16.5" fill="#333" textLength="695" lengthAdjust="spacing">[3] Vocalist: An audio-visual synchronisation model for lips and voices. Kadandale et al. <tspan fill="#7a8aa0">Interspeech 2022</tspan></text>
</svg>
</body></html>
